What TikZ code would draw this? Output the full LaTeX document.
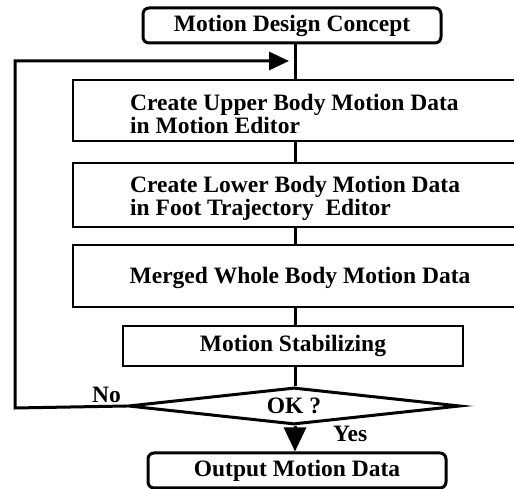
\documentclass[tikz,border=0pt]{standalone}
\usepackage{fontspec}
\setmainfont{Liberation Serif}
\usetikzlibrary{arrows.meta,shapes.geometric}
\begin{document}
\begin{tikzpicture}[x=1pt,y=1pt,
  every node/.style={font=\bfseries\fontsize{23.5}{23}\selectfont, inner sep=0pt},
  rbox/.style={draw, line width=3pt, rounded corners=6pt},
  pbox/.style={draw, line width=2pt},
  conn/.style={line width=3pt},
  txt/.style={align=left, anchor=west}
]
\useasboundingbox (0,0) rectangle (514,489);
\fill[white] (0,0) rectangle (514,489);
% boxes
\node[rbox, minimum width=298, minimum height=35] (top) at (292,463.5) {Motion Design Concept};
\node[pbox, minimum width=443, minimum height=61] (b1) at (294.5,378.5) {};
\node[pbox, minimum width=443, minimum height=64] (b2) at (294.5,294) {};
\node[pbox, minimum width=443, minimum height=62] (b3) at (294.5,213) {};
\node[pbox, minimum width=340, minimum height=40] (b4) at (293,143) {Motion Stabilizing};
\node[draw, shape=diamond, aspect=9, line width=3pt, minimum width=332, minimum height=37] (ok) at (294,83) {OK ?};
\node[rbox, minimum width=298, minimum height=35] (out) at (297,18.5) {Output Motion Data};
% texts
\node[txt] (t1) at (130,375.5) {Create Upper Body Motion Data\\in Motion Editor};
\node[txt] (t2) at (130,290.5) {Create Lower Body Motion Data\\in Foot Trajectory~ Editor};
\node (t3) at (300,211) {Merged Whole Body Motion Data};
\node[anchor=base west] (no) at (92,86) {No};
\node[anchor=base west] (yes) at (333,47) {Yes};
% connectors
\coordinate (sp) at (295,0);
\draw[conn] (top.south -| sp) -- (b1.north -| sp);
\draw[conn] (b1.south -| sp) -- (b2.north -| sp);
\draw[conn] (b2.south -| sp) -- (b3.north -| sp);
\draw[conn] (b3.south -| sp) -- (b4.north -| sp);
\draw[conn] (b4.south -| sp) -- (ok.north -| sp);
\draw[conn, -{Triangle[length=24pt,width=22pt]}] (ok.south -| sp) -- (out.north -| sp);
\coordinate (c1) at (15,81);
\coordinate (c2) at (15,428);
\draw[conn, -{Triangle[length=20pt,width=18pt]}, shorten >=6pt] (ok.west) -- (c1) -- (c2) -- (c2 -| sp);
\end{tikzpicture}
\end{document}
